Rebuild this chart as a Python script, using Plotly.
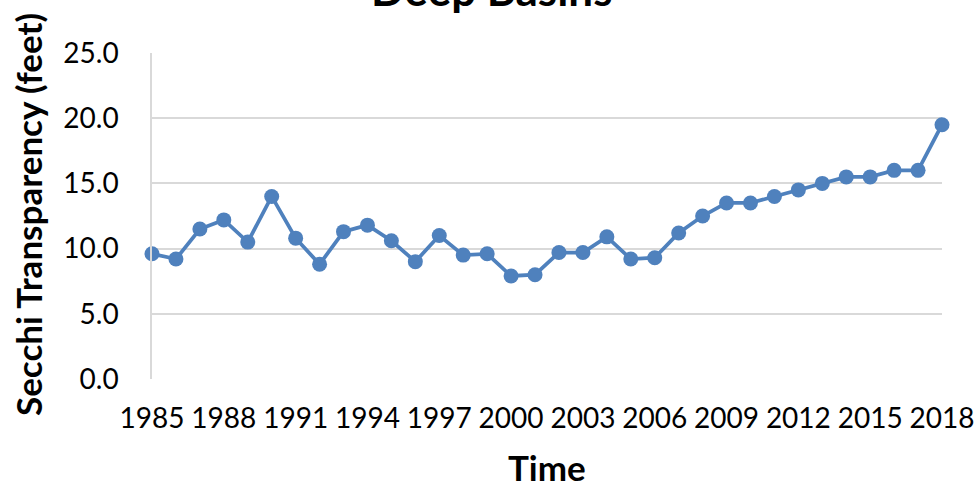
import plotly.graph_objects as go

years = list(range(1985, 2019))
secchi_ft = [9.6, 9.2, 11.5, 12.2, 10.5, 14.0, 10.8, 8.8, 11.3, 11.8,
             10.6, 9.0, 11.0, 9.5, 9.6, 7.9, 8.0, 9.7, 9.7, 10.9,
             9.2, 9.3, 11.2, 12.5, 13.5, 13.5, 14.0, 14.5, 15.0, 15.5,
             15.5, 16.0, 16.0, 19.5]
x_ticks = list(range(1985, 2019, 3))
y_ticks = [0, 5, 10, 15, 20, 25]

FONT = "Lato, 'Open Sans', sans-serif"
BLUE = "#4F81BD"
GRID = "#D9D9D9"

W, H = 979, 483
L, R, T, B = 152, 37, 53, 104
plot_w, plot_h = W - L - R, H - T - B


def px_x(p):
    return (p - L) / plot_w


def px_y(p):
    return (H - B - p) / plot_h


fig = go.Figure(go.Scatter(
    x=years, y=secchi_ft, mode="lines+markers",
    line=dict(color=BLUE, width=3.75),
    marker=dict(color=BLUE, size=15),
    cliponaxis=False, showlegend=False,
))

fig.update_layout(
    width=W, height=H,
    margin=dict(l=L, r=R, t=T, b=B, autoexpand=False),
    paper_bgcolor="white", plot_bgcolor="white",
    font=dict(family=FONT, color="#000000"),
    xaxis=dict(
        range=[1985, 2018], tickvals=x_ticks, ticktext=[str(v) for v in x_ticks],
        showgrid=False, zeroline=False, showline=False, automargin=False,
        ticks="outside", ticklen=14, tickcolor="rgba(0,0,0,0)",
        tickfont=dict(size=28, family=FONT),
    ),
    yaxis=dict(
        range=[0, 25], tickvals=y_ticks, ticktext=[f"{v:.1f}" for v in y_ticks],
        showgrid=True, gridcolor=GRID, gridwidth=1.5, automargin=False,
        zeroline=False, showline=True, linecolor=GRID, linewidth=1.5,
        ticks="outside", ticklen=26, tickcolor="rgba(0,0,0,0)",
        tickfont=dict(size=28, family=FONT),
    ),
    annotations=[
        dict(text="<b>Deep Basins</b>", xref="paper", yref="paper",
             x=px_x(491), y=px_y(17), xanchor="center", yanchor="bottom",
             showarrow=False, font=dict(size=44, family=FONT)),
        dict(text="<b>Secchi Transparency (feet)</b>", xref="paper", yref="paper",
             x=px_x(28), y=px_y(215), xanchor="center", yanchor="middle",
             textangle=-90, showarrow=False, font=dict(size=35, family=FONT)),
        dict(text="<b>Time</b>", xref="paper", yref="paper",
             x=px_x(547), y=px_y(467), xanchor="center", yanchor="middle",
             showarrow=False, font=dict(size=35, family=FONT)),
    ],
)

fig.write_html("out.html")
